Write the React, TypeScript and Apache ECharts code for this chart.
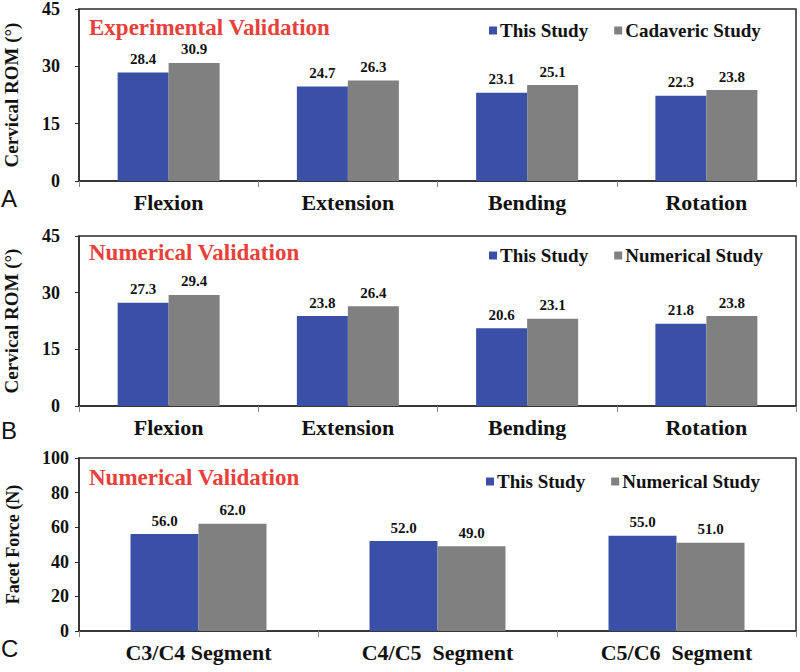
import React, { useEffect, useRef } from "react";
import * as echarts from "echarts";

const romCategories = ["Flexion", "Extension", "Bending", "Rotation"];
const segCategories = ["C3/C4 Segment", "C4/C5  Segment", "C5/C6  Segment"];

const expThisStudy = [28.4, 24.7, 23.1, 22.3];
const expCadaveric = [30.9, 26.3, 25.1, 23.8];

const numThisStudy = [27.3, 23.8, 20.6, 21.8];
const numNumerical = [29.4, 26.4, 23.1, 23.8];

const facetThisStudy = [56.0, 52.0, 55.0];
const facetNumerical = [62.0, 49.0, 51.0];

const panelTitles = ["Experimental Validation", "Numerical Validation", "Numerical Validation"];
const panelLetters = ["A", "B", "C"];

const SERIF = "'Liberation Serif', 'Times New Roman', serif";
const BLUE = "#3a50a6";
const GRAY = "#808080";
const RED = "#e8403a";
const DARK = "#2b2b2b";

export default function App() {
  const ref = useRef<HTMLDivElement>(null);
  useEffect(() => {
    document.body.style.margin = "0";
    if (!ref.current) return;
    const chart = echarts.init(ref.current, null, { renderer: "svg" });

    const grids = [
      { left: 79, top: 9, right: 4, height: 172 },
      { left: 79, top: 236, right: 4, height: 170 },
      { left: 79, top: 458, right: 4, height: 173 },
    ].map((g) => ({
      ...g,
      show: true,
      borderColor: DARK,
      borderWidth: 1.5,
      containLabel: false,
      outerBoundsMode: "none",
    }));

    const xAxis = [romCategories, romCategories, segCategories].map((cats, i) => ({
      type: "category",
      gridIndex: i,
      data: cats,
      axisLine: { lineStyle: { color: DARK, width: 1.5 } },
      axisTick: { show: true, length: 6, lineStyle: { color: "#888" } },
      axisLabel: {
        color: "#111",
        fontFamily: SERIF,
        fontWeight: "bold",
        fontSize: 22,
        margin: 10,
      },
    }));

    const yDefs = [
      { max: 45, interval: 15, name: "Cervical ROM (°)", margin: 19, gap: 58 },
      { max: 45, interval: 15, name: "Cervical ROM (°)", margin: 19, gap: 58 },
      { max: 100, interval: 20, name: "Facet Force (N)", margin: 10, gap: 57 },
    ];
    const yAxis = yDefs.map((d, i) => ({
      type: "value",
      gridIndex: i,
      min: 0,
      max: d.max,
      interval: d.interval,
      name: d.name,
      nameLocation: "middle",
      nameGap: d.gap,
      nameTextStyle: {
        color: "#111",
        fontFamily: SERIF,
        fontWeight: "bold",
        fontSize: i === 2 ? 18 : 19,
      },
      splitLine: { show: false },
      axisLine: { show: true, lineStyle: { color: DARK, width: 1.5 } },
      axisTick: { show: true, length: 4, lineStyle: { color: DARK } },
      axisLabel: {
        color: "#111",
        fontFamily: SERIF,
        fontWeight: "bold",
        fontSize: 18,
        margin: d.margin,
      },
    }));

    const label = {
      show: true,
      position: "top",
      distance: 6,
      color: "#111",
      fontFamily: SERIF,
      fontWeight: "bold",
      fontSize: 15,
      formatter: (p: any) => Number(p.value).toFixed(1),
    };

    const mk = (name: string, data: number[], idx: number, color: string, width: number) => ({
      type: "bar",
      name,
      xAxisIndex: idx,
      yAxisIndex: idx,
      data,
      barWidth: width,
      barGap: "0%",
      itemStyle: { color },
      label,
    });

    const series = [
      mk("This Study", expThisStudy, 0, BLUE, 51),
      mk("Cadaveric Study", expCadaveric, 0, GRAY, 51),
      mk("This Study", numThisStudy, 1, BLUE, 51),
      mk("Numerical Study", numNumerical, 1, GRAY, 51),
      mk("This Study", facetThisStudy, 2, BLUE, 68),
      mk("Numerical Study", facetNumerical, 2, GRAY, 68),
    ];

    const legendBase = {
      icon: "rect",
      itemWidth: 8,
      itemHeight: 8,
      itemGap: 26,
      selectedMode: false,
      textStyle: {
        color: "#111",
        fontFamily: SERIF,
        fontWeight: "bold",
        fontSize: 19,
        padding: [0, 0, 0, -2],
      },
    };
    const legend = [
      { ...legendBase, left: 484, top: 16, data: ["This Study", "Cadaveric Study"] },
      { ...legendBase, left: 484, top: 241, data: ["This Study", "Numerical Study"] },
      { ...legendBase, left: 481, top: 467, data: ["This Study", "Numerical Study"] },
    ];

    const titleTops = [16, 241, 466];
    const title = panelTitles.map((t, i) => ({
      text: t,
      left: 89,
      top: titleTops[i],
      padding: 0,
      textStyle: {
        color: RED,
        fontFamily: SERIF,
        fontWeight: "bold",
        fontSize: 23,
      },
    }));

    const letterTops = [186, 418, 636];
    const graphic = panelLetters.map((l, i) => ({
      type: "text",
      left: 1,
      top: letterTops[i],
      style: {
        text: l,
        fill: "#111",
        font: "24px 'Liberation Sans', Arial, sans-serif",
      },
    }));

    chart.setOption({
      animation: false,
      backgroundColor: "#fff",
      title,
      legend,
      grid: grids,
      xAxis,
      yAxis,
      series,
      graphic,
    });
    return () => chart.dispose();
  }, []);
  return <div ref={ref} style={{ width: 800, height: 672 }} />;
}
